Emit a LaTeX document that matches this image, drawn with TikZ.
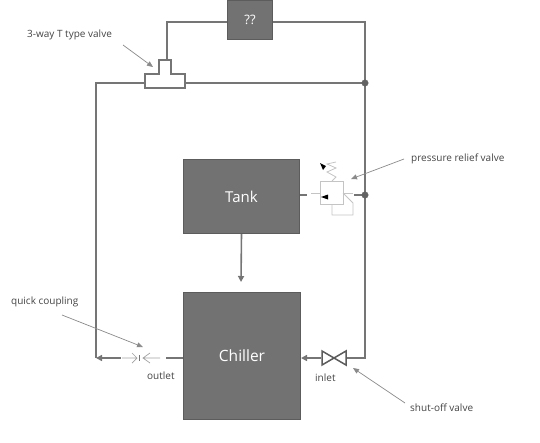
\documentclass[tikz,border=0pt]{standalone}
\usepackage{fontspec}
\setmainfont{Open Sans}
\usetikzlibrary{arrows.meta}
\definecolor{boxfill}{HTML}{727272}
\definecolor{boxline}{HTML}{5C5C5C}
\definecolor{pipecol}{HTML}{757575}
\definecolor{faint}{HTML}{C4C4C4}
\definecolor{leadcol}{HTML}{8A8A8A}
\definecolor{txt}{HTML}{444444}
\tikzset{
  block/.style={draw=boxline,fill=boxfill,line width=1pt,text=white,anchor=north west,inner sep=0pt},
  pipe/.style={draw=pipecol,line width=1.6pt},
  pipearrow/.style={pipe,-{Triangle[length=6pt,width=6pt]}},
  lead/.style={draw=leadcol,line width=0.7pt,-{Triangle[length=6pt,width=5pt]}},
  lab/.style={text=txt,font=\fontsize{10}{12}\selectfont,inner sep=0pt},
  faintline/.style={draw=faint,line width=0.8pt},
  couple/.style={draw=leadcol!80,line width=0.7pt},
  dotj/.style={circle,fill=pipecol!85!black,draw=pipecol!85!black,minimum size=6.5pt,inner sep=0pt}
}
\begin{document}
\begin{tikzpicture}[x=1pt,y=-1pt]
\useasboundingbox (0,0) rectangle (540,442);
% blocks
\node[block,minimum width=45pt,minimum height=39pt,font=\fontsize{13}{15}\selectfont] (q) at (227,0) {??};
\node[block,minimum width=116pt,minimum height=74pt,font=\fontsize{15}{17}\selectfont] (tank) at (183,159) {Tank};
\node[block,minimum width=117pt,minimum height=127pt,font=\fontsize{15.5}{18}\selectfont] (chiller) at (183,292) {Chiller};
% coordinates
\coordinate (tl) at (145,83);
\coordinate (tr) at (185,83);
\coordinate (tt) at (167,60);
\coordinate (c1) at (96,83);
\coordinate (c2) at (96,358);
\coordinate (c3) at (365,22);
\coordinate (c4) at (365,358);
\coordinate (c5) at (167,22);
\coordinate (sv) at (347,358);
\coordinate (sa) at (321,358);
\coordinate (cq) at (121,358);
\coordinate (co) at (166,358);
\coordinate (j1c) at (365,83);
\coordinate (j2c) at (365,195);
% pipes
\draw[pipe] (tt) -- (c5) -- (c5 -| q.west);
\draw[pipe] (c3 -| q.east) -- (c3) -- (c4) -- (sv);
\draw[pipe] (tr) -- (j1c);
\draw[pipe] (tl) -- (c1) -- (c2);
\draw[pipearrow] (cq) -- (c2);
\draw[pipe] (co) -- (co -| chiller.west);
\draw[pipearrow] (tank.south) -- (241,282);
\draw[pipearrow] (sa) -- (sa -| chiller.east);
\draw[pipe] (tank.east |- j2c) -- (307,195);
\draw[pipe] (354,195) -- (j2c);
% junctions
\node[dotj] (j1) at (j1c) {};
\node[dotj] (j2) at (j2c) {};
% T valve
\draw[draw=pipecol,fill=white,line width=1.1pt] (145,74) -- (159,74) -- (159,60) -- (171,60) -- (171,74) -- (185,74) -- (185,88) -- (145,88) -- cycle;
% shut-off valve
\draw[draw=boxline,fill=white,line width=1.5pt] (322,351) -- (322,365) -- (346,351) -- (346,365) -- cycle;
% quick coupling
\draw[couple] (122,358) -- (137,358) (132,353) -- (137,358) -- (132,363);
\draw[couple] (143,358) -- (160,358) (150,353) -- (143,358) -- (150,363);
\draw[draw=pipecol,line width=1pt] (139.5,355) -- (139.5,361);
% relief valve
\draw[faintline] (320,181) rectangle (343,204);
\draw[faintline] (311,193) -- (320,193) (343,193) -- (353,193);
\draw[faintline] (343,193) -- (353,203) -- (353,215) -- (332,215) -- (332,204);
\draw[faintline] (332,181) -- (336,177) -- (327,172) -- (336,168) -- (327,164) -- (336,162);
\fill[black] (321,197) -- (328,194.5) -- (328,199.5) -- cycle;
\fill[black] (320,163) -- (326,166) -- (323,170) -- cycle;
% labels
\node[lab,anchor=west] (l1) at (27,35) {3-way T type valve};
\node[lab,anchor=west] (l2) at (411,159) {pressure relief valve};
\node[lab,anchor=west] (l3) at (11,302) {quick coupling};
\node[lab,anchor=west] (l4) at (410,408) {shut-off valve};
\node[lab,anchor=west] (l5) at (147,376) {outlet};
\node[lab,anchor=west] (l6) at (315,378) {inlet};
% leaders
\coordinate (a1) at (123,45);
\coordinate (a1e) at (153,67);
\coordinate (a2) at (404,159);
\coordinate (a2e) at (351,179);
\coordinate (a3) at (62,315);
\coordinate (a3e) at (143,347);
\coordinate (a4) at (405,403);
\coordinate (a4e) at (353,368);
\draw[lead] (a1) -- (a1e);
\draw[lead] (a2) -- (a2e);
\draw[lead] (a3) -- (a3e);
\draw[lead] (a4) -- (a4e);
\end{tikzpicture}
\end{document}
